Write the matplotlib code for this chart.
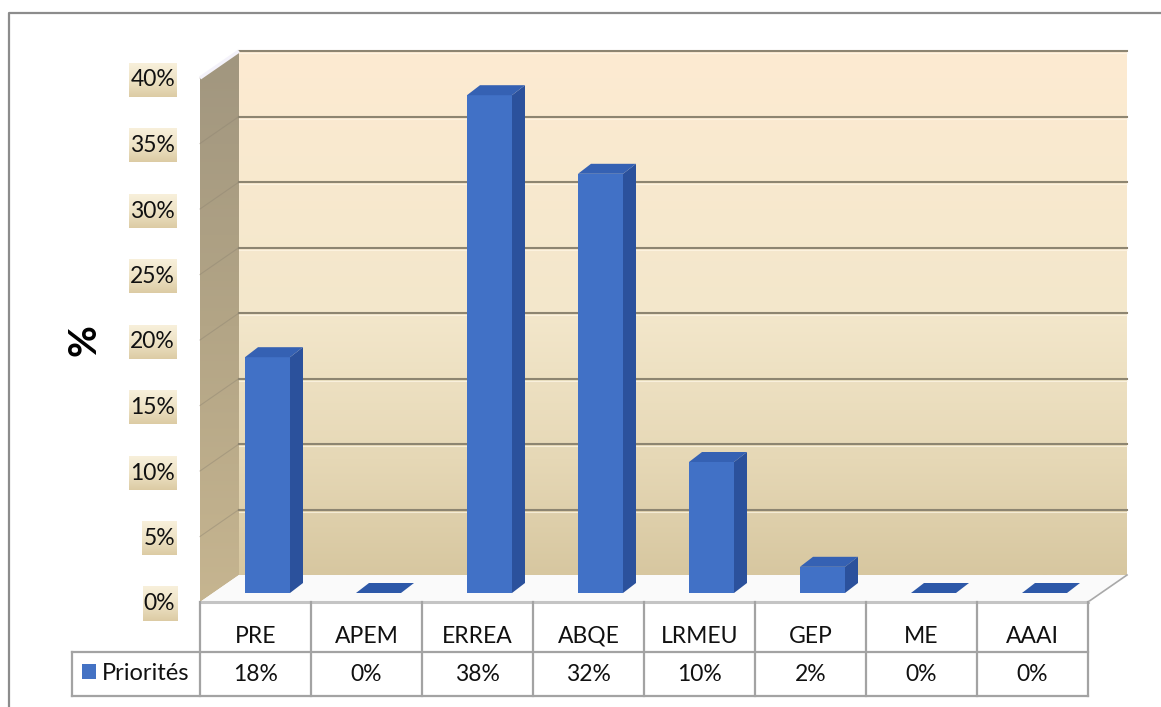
import numpy as np
import matplotlib
matplotlib.use("Agg")
import matplotlib.pyplot as plt
from matplotlib.patches import Polygon, Rectangle
from matplotlib.lines import Line2D
from matplotlib.colors import LinearSegmentedColormap

# ---- data ----
categories = ["PRE", "APEM", "ERREA", "ABQE", "LRMEU", "GEP", "ME", "AAAI"]
values = [18, 0, 38, 32, 10, 2, 0, 0]          # percent
series_name = "Priorités"
y_ticks = [0, 5, 10, 15, 20, 25, 30, 35, 40]
y_tick_labels = [f"{t}%" for t in y_ticks]
y_label = "%"

plt.rcParams['font.family'] = ['Lato', 'DejaVu Sans']
FS = 16.5

W, H, DPI = 1161, 707, 100
fig = plt.figure(figsize=(W / DPI, H / DPI), dpi=DPI)
fig.patch.set_facecolor('white')

# ---- geometry of the front plane (pixel layout) ----
n = len(categories)
PLOT_L, PLOT_R = 200, 1088          # left / right of the category columns
ZERO_PY = 602                        # pixel row (from top) of 0 %
PX_PER_PCT = 13.1
PX_PER_CAT = (PLOT_R - PLOT_L) / n
YMAX = y_ticks[-1]


def px2x(px):
    return -0.5 + (px - PLOT_L) / PX_PER_CAT


def px2y(py):
    return (ZERO_PY - py) / PX_PER_PCT


def dx(px):
    return px / PX_PER_CAT


def dy(px):
    return px / PX_PER_PCT


ax = fig.add_axes([0, 0, 1, 1])
ax.set_xlim(px2x(0), px2x(W))
ax.set_ylim(px2y(H), px2y(0))
ax.set_autoscale_on(False)
ax.patch.set_visible(False)
for s in ax.spines.values():
    s.set_visible(False)
ax.xaxis.set_visible(False)
ax.spines['left'].set_position(('data', -0.5))

# depth offsets
WALL_DX, WALL_DY = dx(39), dy(27)    # back wall
BAR_DX, BAR_DY = dx(12), dy(9)       # plane of bar fronts
BD_X, BD_Y = dx(13), dy(10)          # bar depth
BAR_W = 45 / PX_PER_CAT

x0, x1 = -0.5, n - 0.5

# ---- back wall ----
grad = np.linspace(0, 1, 256).reshape(-1, 1)
wall_cmap = LinearSegmentedColormap.from_list(
    'wall', [(0, '#D7C7A0'), (0.22, '#E6D8B6'), (0.5, '#F3E7CB'), (1, '#FDEBD2')])
ax.imshow(grad, cmap=wall_cmap, origin='lower', aspect='auto',
          extent=[x0 + WALL_DX, x1 + WALL_DX, WALL_DY, YMAX + WALL_DY],
          zorder=0.1, interpolation='bilinear')

# ---- side wall ----
side_cmap = LinearSegmentedColormap.from_list(
    'side', [(0, '#C6B590'), (0.5, '#B3A586'), (1, '#A1967F')])
side_poly = Polygon([(x0, 0), (x0, YMAX), (x0 + WALL_DX, YMAX + WALL_DY),
                     (x0 + WALL_DX, WALL_DY)], closed=True,
                    facecolor='none', edgecolor='none')
ax.add_patch(side_poly)
im_side = ax.imshow(grad, cmap=side_cmap, origin='lower', aspect='auto',
                    extent=[x0, x0 + WALL_DX, 0, YMAX + WALL_DY],
                    zorder=0.2, interpolation='bilinear')
im_side.set_clip_path(side_poly)
ax.plot([x0, x0 + WALL_DX], [YMAX, YMAX + WALL_DY], color='#F4F2FA', lw=2.5,
        zorder=0.35, solid_capstyle='butt')

# gridlines on back and side walls
for t in y_ticks[1:]:
    ax.plot([x0 + WALL_DX, x1 + WALL_DX], [t + WALL_DY, t + WALL_DY],
            color='#8D8571', lw=1.5, zorder=0.3)
    ax.plot([x0 + WALL_DX, x1 + WALL_DX], [t + WALL_DY - dy(2), t + WALL_DY - dy(2)],
            color='#FFF8E8', lw=0.8, alpha=0.7, zorder=0.3)
    ax.plot([x0, x0 + WALL_DX], [t, t + WALL_DY], color='#8F8572', lw=0.8,
            alpha=0.45, zorder=0.3)

# ---- floor ----
floor = Polygon([(x0, 0), (x1, 0), (x1 + WALL_DX, WALL_DY), (x0 + WALL_DX, WALL_DY)],
                closed=True, facecolor='#FAFAFA', edgecolor='none', zorder=0.4)
ax.add_patch(floor)
ax.plot([x1, x1 + WALL_DX], [0, WALL_DY], color='#A9A9A9', lw=1.2, zorder=0.45)

# ---- bars ----
FRONT_C, SIDE_C, TOP_C, FLAT_C = '#4171C6', '#2B519C', '#3561B3', '#2D58A8'
for i, v in enumerate(values):
    bx0 = i + BAR_DX - BAR_W / 2
    bx1 = bx0 + BAR_W
    by = BAR_DY
    top = by + v
    if v > 0:
        ax.add_patch(Polygon([(bx1, by), (bx1 + BD_X, by + BD_Y),
                              (bx1 + BD_X, top + BD_Y), (bx1, top)],
                             closed=True, facecolor=SIDE_C, edgecolor='none', zorder=1))
        ax.add_patch(Rectangle((bx0, by), BAR_W, v, facecolor=FRONT_C,
                               edgecolor='none', zorder=1.05))
        ax.add_patch(Polygon([(bx0, top), (bx1, top), (bx1 + BD_X, top + BD_Y),
                              (bx0 + BD_X, top + BD_Y)],
                             closed=True, facecolor=TOP_C, edgecolor='none', zorder=1.05))
    else:
        ax.add_patch(Polygon([(bx0, by), (bx1, by), (bx1 + BD_X, by + BD_Y),
                              (bx0 + BD_X, by + BD_Y)],
                             closed=True, facecolor=FLAT_C, edgecolor='none', zorder=1))

# ---- data table ----
LINE_C = '#A3A3A3'
LW = 1.6
r1 = px2y(652)
r2 = px2y(696)
leg_l = px2x(72)
ax.plot([x0, x1], [0, 0], color='#C4C4C4', lw=2.2, zorder=2)
ax.plot([leg_l, x1], [r1, r1], color=LINE_C, lw=LW, zorder=2)
ax.plot([leg_l, x1], [r2, r2], color=LINE_C, lw=LW, zorder=2)
for k in range(n + 1):
    ax.plot([x0 + k, x0 + k], [0, r2], color=LINE_C, lw=LW, zorder=2)
ax.plot([leg_l, leg_l], [r1, r2], color=LINE_C, lw=LW, zorder=2)

for i, (c, v) in enumerate(zip(categories, values)):
    ax.text(i, px2y(643), c, ha='center', va='baseline', fontsize=FS,
            color='#111111', zorder=3)
    ax.text(i, px2y(681), f"{v}%", ha='center', va='baseline', fontsize=FS,
            color='#111111', zorder=3)

ax.add_patch(Rectangle((px2x(82), px2y(679)), dx(14), dy(15),
                       facecolor='#4472C4', edgecolor='none', zorder=3))
ax.text(px2x(102), px2y(680), series_name, ha='left', va='baseline',
        fontsize=FS + 0.5, color='#111111', zorder=3)

# ---- y axis ----
ax.set_yticks(y_ticks)
ax.set_yticklabels(y_tick_labels)
ax.tick_params(axis='y', length=0, pad=18, labelsize=FS, labelcolor='#111111')

fig.text(84 / W, 1 - 340 / H, y_label, rotation=90, fontsize=28,
         fontweight='bold', ha='center', va='center')

# gradient boxes behind tick labels
fig.canvas.draw()
renderer = fig.canvas.get_renderer()
lab_cmap = LinearSegmentedColormap.from_list('lab', ['#DCCBA4', '#EEE3C6', '#F8F0DB'])
inv = ax.transData.inverted()
for lab in ax.get_yticklabels():
    bb = lab.get_window_extent(renderer)
    cy = (bb.y0 + bb.y1) / 2
    (bx0d, by0d) = inv.transform((bb.x0 - 1, cy - 17))
    (bx1d, by1d) = inv.transform((bb.x1 + 2, cy + 17))
    ax.imshow(grad, cmap=lab_cmap, origin='lower', aspect='auto',
              extent=[bx0d, bx1d, by0d, by1d], zorder=1.2,
              interpolation='bilinear')

# outer frame
fig.add_artist(Line2D([9 / W, 9 / W, 1], [0, 1 - 13 / H, 1 - 13 / H],
                      transform=fig.transFigure, color='#8C8C8C', lw=1.6))

fig.savefig('out.png', dpi=DPI, facecolor='white')
